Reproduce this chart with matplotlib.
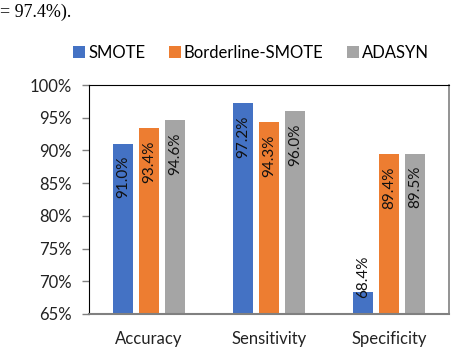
import matplotlib
matplotlib.use("Agg")
import matplotlib.pyplot as plt
import numpy as np

categories = ["Accuracy", "Sensitivity", "Specificity"]
series_names = ["SMOTE", "Borderline-SMOTE", "ADASYN"]
smote = [91.0, 97.2, 68.4]
borderline = [93.4, 94.3, 89.4]
adasyn = [94.6, 96.0, 89.5]
yticks = [65, 70, 75, 80, 85, 90, 95, 100]
colors = ["#4472C4", "#ED7D31", "#A5A5A5"]

plt.rcParams['font.family'] = ['Lato', 'DejaVu Sans']

fig = plt.figure(figsize=(4.55, 3.49), dpi=100)
ax = fig.add_axes([0.1956, 0.1003, 0.7912, 0.6561])

x = np.arange(len(categories))
width = 0.17
step = 0.217
data = [smote, borderline, adasyn]
for i, (vals, name, c) in enumerate(zip(data, series_names, colors)):
    pos = x + (i - 1) * step
    ax.bar(pos, [v - 65 for v in vals], width, bottom=65, color=c, label=name)
    for p, v in zip(pos, vals):
        if v - 65 > 8:
            ax.annotate(f"{v:.1f}%", (p, v), xytext=(0, -8.6), textcoords="offset points",
                        rotation=90, ha="center", va="top", fontsize=11, color="#111111")
        else:
            ax.annotate(f"{v:.1f}%", (p, v), xytext=(0, -4.5), textcoords="offset points",
                        rotation=90, ha="center", va="bottom", fontsize=11, color="#111111")

ax.set_xlim(-0.5, 2.5)
ax.set_ylim(65, 100)
ax.set_yticks(yticks)
ax.set_yticklabels([f"{t}%" for t in yticks], fontsize=12, color="#222222")
ax.set_xticks(x)
ax.set_xticklabels(categories, fontsize=12, color="#222222")
ax.tick_params(axis="x", length=0, pad=12)
ax.tick_params(axis="y", length=5, width=1, color="#808080", direction="out", pad=7.5)

ax.spines["left"].set_color("black")
ax.spines["top"].set_color("black")
ax.spines["right"].set_color("#808080")
ax.spines["bottom"].set_color("#808080")
ax.spines["bottom"].set_linewidth(1.5)
ax.spines["right"].set_linewidth(1.2)

fig.legend(loc="center", bbox_to_anchor=(0.552, 0.848), ncol=3, frameon=False,
           fontsize=12, handlelength=0.7, handleheight=0.7, handletextpad=0.2,
           columnspacing=1.4)

fig.text(0.0, 0.99, "= 97.4%).", family=["Liberation Serif"], fontsize=13,
         ha="left", va="top", color="black")

fig.savefig("out.png", dpi=100)
